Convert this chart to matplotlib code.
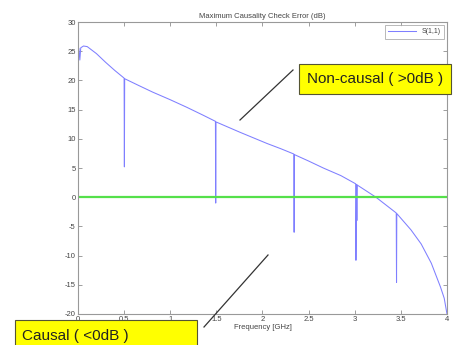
import matplotlib
matplotlib.use("Agg")
import matplotlib.pyplot as plt
import matplotlib.patches as patches
from matplotlib.lines import Line2D

# ---- data ----
freq_ghz = [0.0, 0.01, 0.02, 0.03, 0.06, 0.1, 0.2, 0.3, 0.4,
            0.5, 0.503, 0.506,
            0.65, 0.81, 1.0, 1.18, 1.35,
            1.49, 1.493, 1.496,
            1.76, 2.05, 2.2,
            2.34, 2.343, 2.346,
            2.5, 2.66, 2.85,
            3.01, 3.013, 3.02, 3.023, 3.026,
            3.23,
            3.45, 3.453, 3.456,
            3.61, 3.72, 3.83, 3.93, 3.97, 4.0]
err_db = [22.0, 25.5, 23.5, 25.6, 25.9, 25.8, 24.6, 23.1, 21.7,
          20.4, 5.2, 20.3,
          19.2, 18.0, 16.7, 15.4, 14.1,
          13.0, -1.0, 12.9,
          11.1, 9.2, 8.3,
          7.4, -6.0, 7.3,
          6.2, 5.0, 3.7,
          2.3, -10.8, 2.2, -4.0, 2.1,
          0.0,
          -2.7, -14.6, -2.8,
          -5.6, -8.0, -11.3, -15.4, -17.3, -20.0]
ref_db = 0.0
series_name = "S(1,1)"
x_ticks = [0, 0.5, 1, 1.5, 2, 2.5, 3, 3.5, 4]
x_tick_labels = ["0", "0.5", "1", "1.5", "2", "2.5", "3", "3.5", "4"]
y_ticks = [-20, -15, -10, -5, 0, 5, 10, 15, 20, 25, 30]

plt.rcParams['font.family'] = ['Liberation Sans', 'DejaVu Sans']
plt.rcParams['axes.unicode_minus'] = False

fig = plt.figure(figsize=(4.62, 3.45), dpi=100)
ax = fig.add_axes([0.1688, 0.0899, 0.7987, 0.8461])

ax.plot(freq_ghz, err_db, color='#7f7fff', lw=0.75, label=series_name)
ax.axhline(ref_db, color='#55e04a', lw=1.6)

ax.set_xlim(0, 4)
ax.set_ylim(-20, 30)
ax.set_xticks(x_ticks)
ax.set_xticklabels(x_tick_labels)
ax.set_yticks(y_ticks)
ax.tick_params(direction='in', length=3, width=0.5, colors='#777777',
               labelsize=5.5, labelcolor='#444444', top=True, right=True, pad=1.5)
for sp in ax.spines.values():
    sp.set_color('#999999')
    sp.set_linewidth(0.8)

ax.set_title("Maximum Causality Check Error (dB)", fontsize=5.5, color='#444444', pad=3)
ax.set_xlabel("Frequency [GHz]", fontsize=5.5, color='#444444', labelpad=1)

leg = ax.legend(loc='upper right', fontsize=5, handlelength=4, frameon=True,
                fancybox=False, borderaxespad=0.4, borderpad=0.5)
leg.get_frame().set_edgecolor('#999999')
leg.get_frame().set_linewidth(0.6)
for t in leg.get_texts():
    t.set_color('#444444')

# ---- callouts (figure pixel coords / 462x345) ----
W, H = 462.0, 345.0

def fx(px):
    return px / W

def fy(py):
    return 1 - py / H

fig.add_artist(Line2D([fx(293), fx(240)], [fy(70), fy(120)],
                      transform=fig.transFigure, color='#333333', lw=0.9))
fig.add_artist(Line2D([fx(204), fx(268)], [fy(327), fy(255)],
                      transform=fig.transFigure, color='#333333', lw=0.9))

fig.add_artist(patches.Rectangle((fx(299), fy(94)), fx(451) - fx(299), fy(64) - fy(94),
                                 transform=fig.transFigure, facecolor='#ffff00',
                                 edgecolor='#555533', lw=0.8))
fig.text(fx(307), fy(79), "Non-causal ( >0dB )", fontsize=11, va='center', ha='left',
         color='#222222')

fig.add_artist(patches.Rectangle((fx(15), fy(350)), fx(197) - fx(15), fy(320) - fy(350),
                                 transform=fig.transFigure, facecolor='#ffff00',
                                 edgecolor='#555533', lw=0.8, clip_on=False))
fig.text(fx(22), fy(336), "Causal ( <0dB )", fontsize=11, va='center', ha='left',
         color='#222222')

fig.savefig("out.png", dpi=100)
